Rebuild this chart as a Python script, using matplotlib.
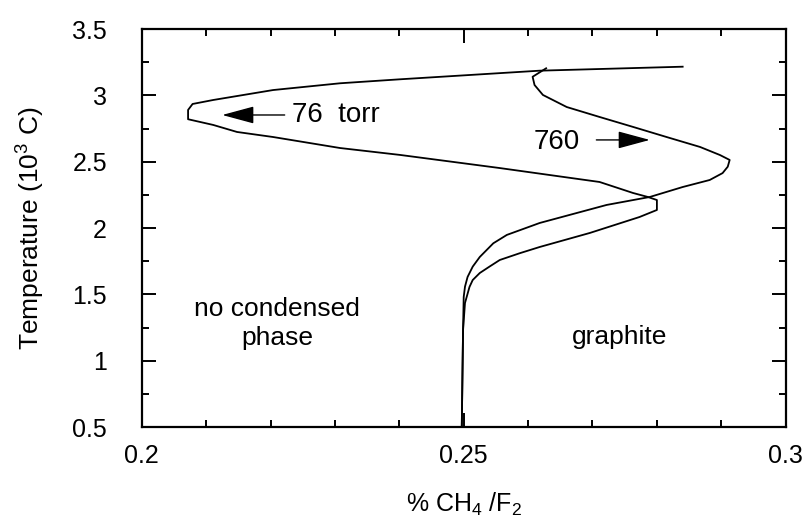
import matplotlib.pyplot as plt
import numpy as np

plt.rcParams['font.family'] = ['Liberation Sans', 'DejaVu Sans']
plt.rcParams['mathtext.fontset'] = 'custom'
plt.rcParams['mathtext.rm'] = 'Liberation Sans'

# 76 torr curve (top end -> left tip -> junction -> inner lower branch)
x76 = [0.2840, 0.2618, 0.2401, 0.2308, 0.2204, 0.2111, 0.2079, 0.2072, 0.2072,
       0.2111, 0.2148, 0.2204, 0.2308, 0.2401, 0.2556, 0.2711, 0.2763, 0.2786,
       0.2800, 0.2800, 0.2773, 0.2696, 0.2618, 0.2587, 0.2556, 0.2540, 0.2525,
       0.2514, 0.2509, 0.2502, 0.2499, 0.2497]
y76 = [3.216, 3.186, 3.121, 3.091, 3.040, 2.965, 2.935, 2.890, 2.820,
       2.777, 2.724, 2.686, 2.603, 2.551, 2.452, 2.347, 2.264, 2.234,
       2.211, 2.136, 2.083, 1.963, 1.857, 1.810, 1.759, 1.709, 1.661,
       1.608, 1.556, 1.435, 1.232, 0.5]

# 760 torr curve (top hook -> right tip -> junction -> outer lower branch)
x760 = [0.2628, 0.2607, 0.2610, 0.2623, 0.2660, 0.2711, 0.2763, 0.2815, 0.2867,
        0.2898, 0.2913, 0.2910, 0.2902, 0.2882, 0.2840, 0.2789, 0.2722, 0.2618,
        0.2567, 0.2546, 0.2525, 0.2514, 0.2506, 0.2502, 0.2500, 0.2499, 0.2497]
y760 = [3.204, 3.140, 3.078, 3.003, 2.912, 2.837, 2.762, 2.686, 2.611,
        2.550, 2.513, 2.462, 2.414, 2.362, 2.309, 2.234, 2.174, 2.038,
        1.948, 1.885, 1.782, 1.709, 1.631, 1.558, 1.480, 1.232, 0.5]

fig = plt.figure(figsize=(8.07, 5.21), dpi=100)
ax = fig.add_axes([0.1756, 0.1804, 0.798, 0.7639])

ax.plot(x76, y76, color="black", lw=1.3)
ax.plot(x760, y760, color="black", lw=1.3)

ax.set_xlim(0.2, 0.3)
ax.set_ylim(0.5, 3.5)
ax.set_xticks([0.2, 0.25, 0.3])
ax.set_xticklabels(["0.2", "0.25", "0.3"])
ax.set_xticks(np.arange(0.21, 0.30, 0.01), minor=True)
ax.set_yticks(np.arange(0.5, 3.51, 0.5))
ax.set_yticklabels(["0.5", "1", "1.5", "2", "2.5", "3", "3.5"])
ax.set_yticks(np.arange(0.75, 3.5, 0.5), minor=True)
ax.tick_params(which="both", direction="in", top=True, right=True,
               labelsize=18, width=1.4)
ax.tick_params(which="major", length=10)
ax.tick_params(axis="y", which="major", pad=25)
ax.tick_params(axis="x", which="major", pad=12)
ax.tick_params(which="minor", length=5)
for s in ax.spines.values():
    s.set_linewidth(1.6)

ax.set_xlabel("% CH$_4$ /F$_2$", fontsize=18, labelpad=17)
ax.set_ylabel("Temperature (10$^3$ C)", fontsize=19, labelpad=19)

arrow = dict(arrowstyle="-|>,head_length=1.0,head_width=0.27",
             color="black", lw=1.0, mutation_scale=20, shrinkA=0, shrinkB=0)
ax.text(0.2233, 2.852, "76  torr", fontsize=20, va="center", ha="left")
ax.annotate("", xy=(0.2125, 2.852), xytext=(0.2222, 2.852), arrowprops=arrow)
ax.text(0.2645, 2.645, "760", fontsize=20, va="center", ha="center")
ax.annotate("", xy=(0.2789, 2.664), xytext=(0.2706, 2.664), arrowprops=arrow)
ax.text(0.2210, 1.28, "no condensed\nphase", fontsize=19, ha="center",
        va="center", linespacing=1.3)
ax.text(0.2742, 1.18, "graphite", fontsize=19, ha="center", va="center")

fig.savefig("out.png", dpi=100)
